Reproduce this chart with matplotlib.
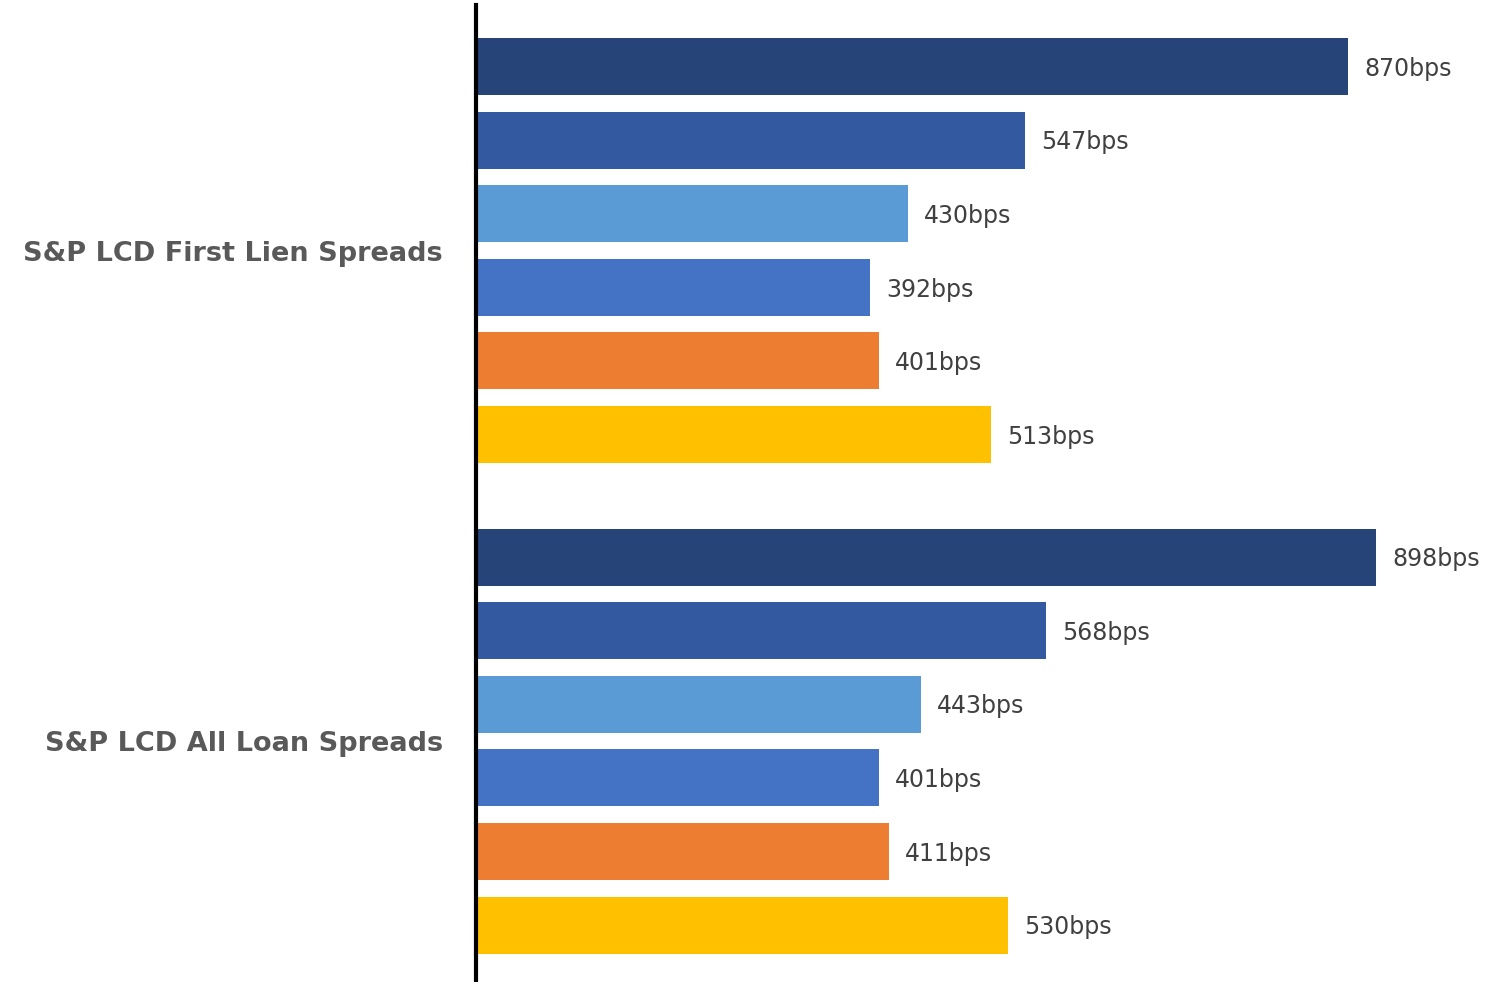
import matplotlib
matplotlib.use("Agg")
import matplotlib.pyplot as plt

groups = ["S&P LCD First Lien Spreads", "S&P LCD All Loan Spreads"]
first_lien = [870, 547, 430, 392, 401, 513]
all_loan = [898, 568, 443, 401, 411, 530]
colors = ["#264478", "#335AA1", "#5B9BD5", "#4472C4", "#ED7D31", "#FFC000"]

GAP = 0.666
fig = plt.figure(figsize=(15.01, 9.82), dpi=100)
ax = fig.add_axes([476 / 1501, 0, 1 - 476 / 1501, 977 / 982])

centers = []
for g, vals in enumerate([first_lien, all_loan]):
    base = g * (len(vals) + GAP)
    ys = [base + i for i in range(len(vals))]
    ax.barh(ys, vals, height=0.775, color=colors)
    for y, v in zip(ys, vals):
        ax.text(v + 16, y + 0.03, f"{v}bps", va="center", ha="left",
                fontsize=17, color="#404040", family="DejaVu Sans")
    centers.append(sum(ys) / len(ys))

ax.set_ylim(11.666 + 0.774, -0.836)
ax.set_xlim(-2, 1023)
ax.set_yticks(centers)
ax.set_yticklabels(groups, fontsize=19.5, fontweight="bold", color="#595959",
                   family="DejaVu Sans")
ax.tick_params(axis="y", length=0, pad=24)
ax.set_xticks([])
for s in ["top", "right", "bottom"]:
    ax.spines[s].set_visible(False)
ax.spines["left"].set_linewidth(3)
ax.spines["left"].set_color("black")

fig.savefig("out.png", dpi=100)
